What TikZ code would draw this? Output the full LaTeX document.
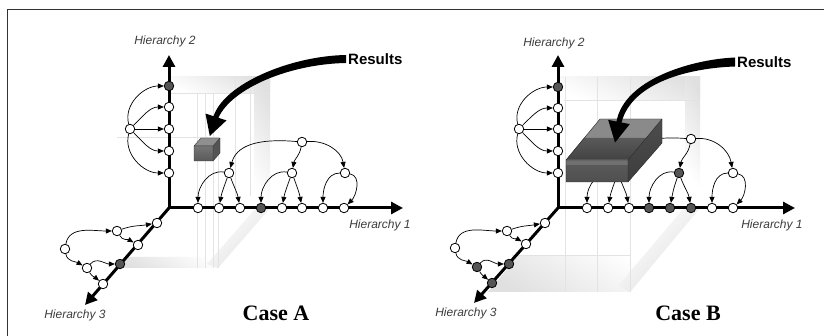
\documentclass[tikz,border=0pt]{standalone}
\usepackage{fontspec}
\setmainfont{Liberation Serif}
\setsansfont{Liberation Sans}
\usetikzlibrary{arrows.meta}
\definecolor{darknode}{HTML}{555555}
\definecolor{labelgray}{HTML}{3C3C3C}
\definecolor{framegray}{HTML}{333333}
\begin{document}
\begin{tikzpicture}[x=1pt,y=1pt,
  mainaxis/.style={line width=3pt, line join=miter},
  axtip/.style={-{Triangle[length=12pt,width=12pt]}},
  axtips/.style={{Triangle[length=12pt,width=12pt]}-{Triangle[length=12pt,width=12pt]}},
  nd/.style={circle, draw=black, line width=0.8pt, fill=white, minimum size=9.5pt, inner sep=0pt},
  dk/.style={nd, fill=darknode},
  link/.style={line width=0.7pt, -{Triangle[length=6pt,width=5pt]}},
  faint/.style={draw=gray!22, line width=0.5pt},
  band/.style={shading=axis, top color=gray!24, bottom color=white},
  hlabel/.style={font=\sffamily\itshape\fontsize{12}{13}\selectfont, text=labelgray},
  reslabel/.style={font=\sffamily\bfseries\fontsize{15}{17}\selectfont, inner sep=0pt},
  caselabel/.style={font=\bfseries\fontsize{22}{24}\selectfont},
]
\useasboundingbox (0,0) rectangle (824,336);
\fill[white] (0,0) rectangle (824,336);

% frame
\draw[framegray, line width=1.8pt] (7.5,0) -- (7.5,326.5) -- (824,326.5);

% ---------- Case A: translucent data cube ----------
\shade[band, shading angle=-25] (169,243) rectangle (270,259);
\shade[band, shading angle=-60] (254,128) rectangle (270,259);
\shade[band, shading angle=150] (117,68) -- (218,68) -- (226,79) -- (125,79) -- cycle;
\shade[band, shading angle=-135] (218,68) -- (270,128) -- (256,128) -- (207,72) -- cycle;
\draw[faint] (169,243) -- (270,243) (117,199) -- (218,199) -- (218,68);
\draw[faint] (197,243) -- (197,68) (205,243) -- (205,68) (213,243) -- (213,68);
\draw[faint] (235,259) -- (235,140) (250,259) -- (250,140);

% ---------- Case A: axes ----------
\draw[mainaxis, axtips] (169,281) -- (169,128) -- (403,128);
\draw[mainaxis, axtip] (169,128) -- (85,31);

% Hierarchy 2 tree
\node[dk] (aV1) at (169,250) {};
\node[nd] (aV2) at (169,229) {};
\node[nd] (aV3) at (169,207) {};
\node[nd] (aV4) at (169,185) {};
\node[nd] (aV5) at (169,163) {};
\node[nd] (aVS) at (130,207) {};
\draw[link] (aVS) to[out=105,in=180] (aV1);
\draw[link] (aVS) to[out=45,in=180] (aV2);
\draw[link] (aVS) -- (aV3);
\draw[link] (aVS) to[out=-45,in=180] (aV4);
\draw[link] (aVS) to[out=-105,in=180] (aV5);

% Hierarchy 1 tree
\node[nd] (aH1) at (198,128) {};
\node[nd] (aH2) at (219,128) {};
\node[nd] (aH3) at (240,128) {};
\node[dk] (aH4) at (261,128) {};
\node[nd] (aH5) at (282,128) {};
\node[nd] (aH6) at (302,128) {};
\node[nd] (aH7) at (323,128) {};
\node[nd] (aH8) at (344,128) {};
\node[nd] (aHa) at (229,163) {};
\node[nd] (aHb) at (292,163) {};
\node[nd] (aHc) at (345,163) {};
\node[nd] (aHR) at (302,194) {};
\draw[link] (aHR) to[out=175,in=75] (aHa);
\draw[link] (aHR) to[out=-100,in=80] (aHb);
\draw[link] (aHR) to[out=5,in=100] (aHc);
\draw[link] (aHa) to[out=170,in=90] (aH1);
\draw[link] (aHa) to[out=-110,in=80] (aH2);
\draw[link] (aHa) to[out=-70,in=100] (aH3);
\draw[link] (aHb) to[out=170,in=90] (aH4);
\draw[link] (aHb) to[out=-110,in=80] (aH5);
\draw[link] (aHb) to[out=-70,in=100] (aH6);
\draw[link] (aHc) to[out=180,in=90] (aH7);
\draw[link] (aHc) to[out=-10,in=45] (aH8);

% Hierarchy 3 tree
\node[nd] (aD1) at (157,113) {};
\node[nd] (aD2) at (138,91) {};
\node[dk] (aD3) at (120,72) {};
\node[nd] (aD4) at (103,52) {};
\node[nd] (aDA) at (117,105) {};
\node[nd] (aDB) at (87,68) {};
\node[nd] (aDR) at (65,87) {};
\draw[link] (aDR) to[out=80,in=180] (aDA);
\draw[link] (aDR) to[out=-80,in=150] (aDB);
\draw[link] (aDA) to[out=20,in=190] (aD1);
\draw[link] (aDA) to[out=-60,in=150] (aD2);
\draw[link] (aDB) to[out=50,in=180] (aD3);
\draw[link] (aDB) to[out=-60,in=140] (aD4);

% result cell
\fill[gray!88] (194,190) -- (213,190) -- (220,198) -- (201,198) -- cycle;
\shade[top color=gray!92!black, bottom color=gray!70!black] (194,175) rectangle (213,190);
\fill[gray!66!black] (213,190) -- (220,198) -- (220,183) -- (213,175) -- cycle;
\draw[gray!40!black, line width=0.4pt] (194,175) rectangle (213,190)
  (194,190) -- (201,198) -- (220,198) -- (220,183) -- (213,175) (213,190) -- (220,198);

% labels
\node[hlabel] (aL2) at (165,295) {Hierarchy 2};
\node[hlabel] (aL1) at (380,111) {Hierarchy 1};
\node[hlabel] (aL3) at (75,21) {Hierarchy 3};
\node[reslabel, anchor=west] (aRes) at (348,277) {Results};
\node[caselabel] (aCase) at (276,23) {Case A};

% results arrow
\fill (346,281) .. controls (290,280) and (224,252) .. (213.6,219.8)
  -- (205.5,222.4) -- (209.8,200) -- (226.5,215.6) -- (218.4,218.2)
  .. controls (232,248) and (290,272) .. (346,273) -- cycle;

% ---------- Case B: translucent data cube ----------
\shade[band, shading angle=-25] (558,236) rectangle (700,259);
\shade[band, shading angle=-60] (685,150) rectangle (700,259);
\shade[band, shading angle=150] (488,44) -- (630,44) -- (660,80) -- (518,80) -- cycle;
\shade[band, shading angle=-135] (630,44) -- (700,128) -- (684,128) -- (618,50) -- cycle;
\draw[faint] (564,236) -- (699,236);
\draw[faint] (565,259) -- (565,44) (597,259) -- (597,44) (630,259) -- (630,44);
\draw[faint] (512,81) -- (630,81);

% ---------- Case B: axes ----------
\draw[mainaxis, axtips] (558,281) -- (558,128) -- (795,128);
\draw[mainaxis, axtip] (558,128) -- (474,33);

% Hierarchy 2 tree
\node[dk] (bV1) at (558,249) {};
\node[nd] (bV2) at (558,228) {};
\node[nd] (bV3) at (558,207) {};
\node[nd] (bV4) at (558,185) {};
\node[nd] (bV5) at (558,163) {};
\node[nd] (bVS) at (519,207) {};
\draw[link] (bVS) to[out=105,in=180] (bV1);
\draw[link] (bVS) to[out=45,in=180] (bV2);
\draw[link] (bVS) -- (bV3);
\draw[link] (bVS) to[out=-45,in=180] (bV4);
\draw[link] (bVS) to[out=-105,in=180] (bV5);

% Hierarchy 1 tree
\node[nd] (bH1) at (587,128) {};
\node[nd] (bH2) at (608,128) {};
\node[nd] (bH3) at (629,128) {};
\node[dk] (bH4) at (649,128) {};
\node[dk] (bH5) at (670,128) {};
\node[dk] (bH6) at (691,128) {};
\node[nd] (bH7) at (712,128) {};
\node[nd] (bH8) at (733,128) {};
\node[nd] (bHa) at (618,163) {};
\node[dk] (bHb) at (679,163) {};
\node[nd] (bHc) at (733,163) {};
\node[nd] (bHR) at (691,197) {};
\draw[link] (bHR) to[out=175,in=75] (bHa);
\draw[link] (bHR) to[out=-100,in=80] (bHb);
\draw[link] (bHR) to[out=5,in=100] (bHc);
\draw[link] (bHa) to[out=170,in=90] (bH1);
\draw[link] (bHa) to[out=-110,in=80] (bH2);
\draw[link] (bHa) to[out=-70,in=100] (bH3);
\draw[link] (bHb) to[out=170,in=90] (bH4);
\draw[link] (bHb) to[out=-110,in=80] (bH5);
\draw[link] (bHb) to[out=-70,in=100] (bH6);
\draw[link] (bHc) to[out=180,in=90] (bH7);
\draw[link] (bHc) to[out=-10,in=45] (bH8);

% Hierarchy 3 tree
\node[nd] (bD1) at (545,113) {};
\node[nd] (bD2) at (526,92) {};
\node[dk] (bD3) at (509,72) {};
\node[dk] (bD4) at (492,53) {};
\node[nd] (bDA) at (507,105) {};
\node[dk] (bDB) at (477,69) {};
\node[nd] (bDR) at (455,88) {};
\draw[link] (bDR) to[out=80,in=180] (bDA);
\draw[link] (bDR) to[out=-80,in=150] (bDB);
\draw[link] (bDA) to[out=20,in=190] (bD1);
\draw[link] (bDA) to[out=-60,in=150] (bD2);
\draw[link] (bDB) to[out=50,in=180] (bD3);
\draw[link] (bDB) to[out=-60,in=140] (bD4);

% result block
\fill[gray!92] (566,176) -- (628,176) -- (662,217) -- (600,217) -- cycle;
\shade[top color=gray!70!black, bottom color=gray!52!black]
  (566,176) -- (628,176) -- (646,198) -- (584,198) -- cycle;
\shade[top color=gray!72!black, bottom color=gray!62!black] (566,154) rectangle (628,176);
\fill[gray!88!black] (566,171) rectangle (628,176);
\shade[top color=gray!60!black, bottom color=gray!48!black]
  (628,176) -- (662,217) -- (662,193) -- (628,154) -- cycle;
\draw[gray!30!black, line width=0.4pt] (566,154) rectangle (628,176)
  (566,176) -- (600,217) -- (662,217) -- (662,193) -- (628,154) (628,176) -- (662,217);

% labels
\node[hlabel] (bL2) at (554,293) {Hierarchy 2};
\node[hlabel] (bL1) at (772,111) {Hierarchy 1};
\node[hlabel] (bL3) at (466,23) {Hierarchy 3};
\node[reslabel, anchor=west] (bRes) at (737,274) {Results};
\node[caselabel] (bCase) at (688,23) {Case B};

% results arrow
\fill (735,278.5) .. controls (690,276.5) and (624,256) .. (616.5,214.5)
  -- (608.2,216.1) -- (615,193.4) -- (629.8,211.9) -- (621.5,213.5)
  .. controls (632,254) and (690,268) .. (735,269.5) -- cycle;
\end{tikzpicture}
\end{document}
